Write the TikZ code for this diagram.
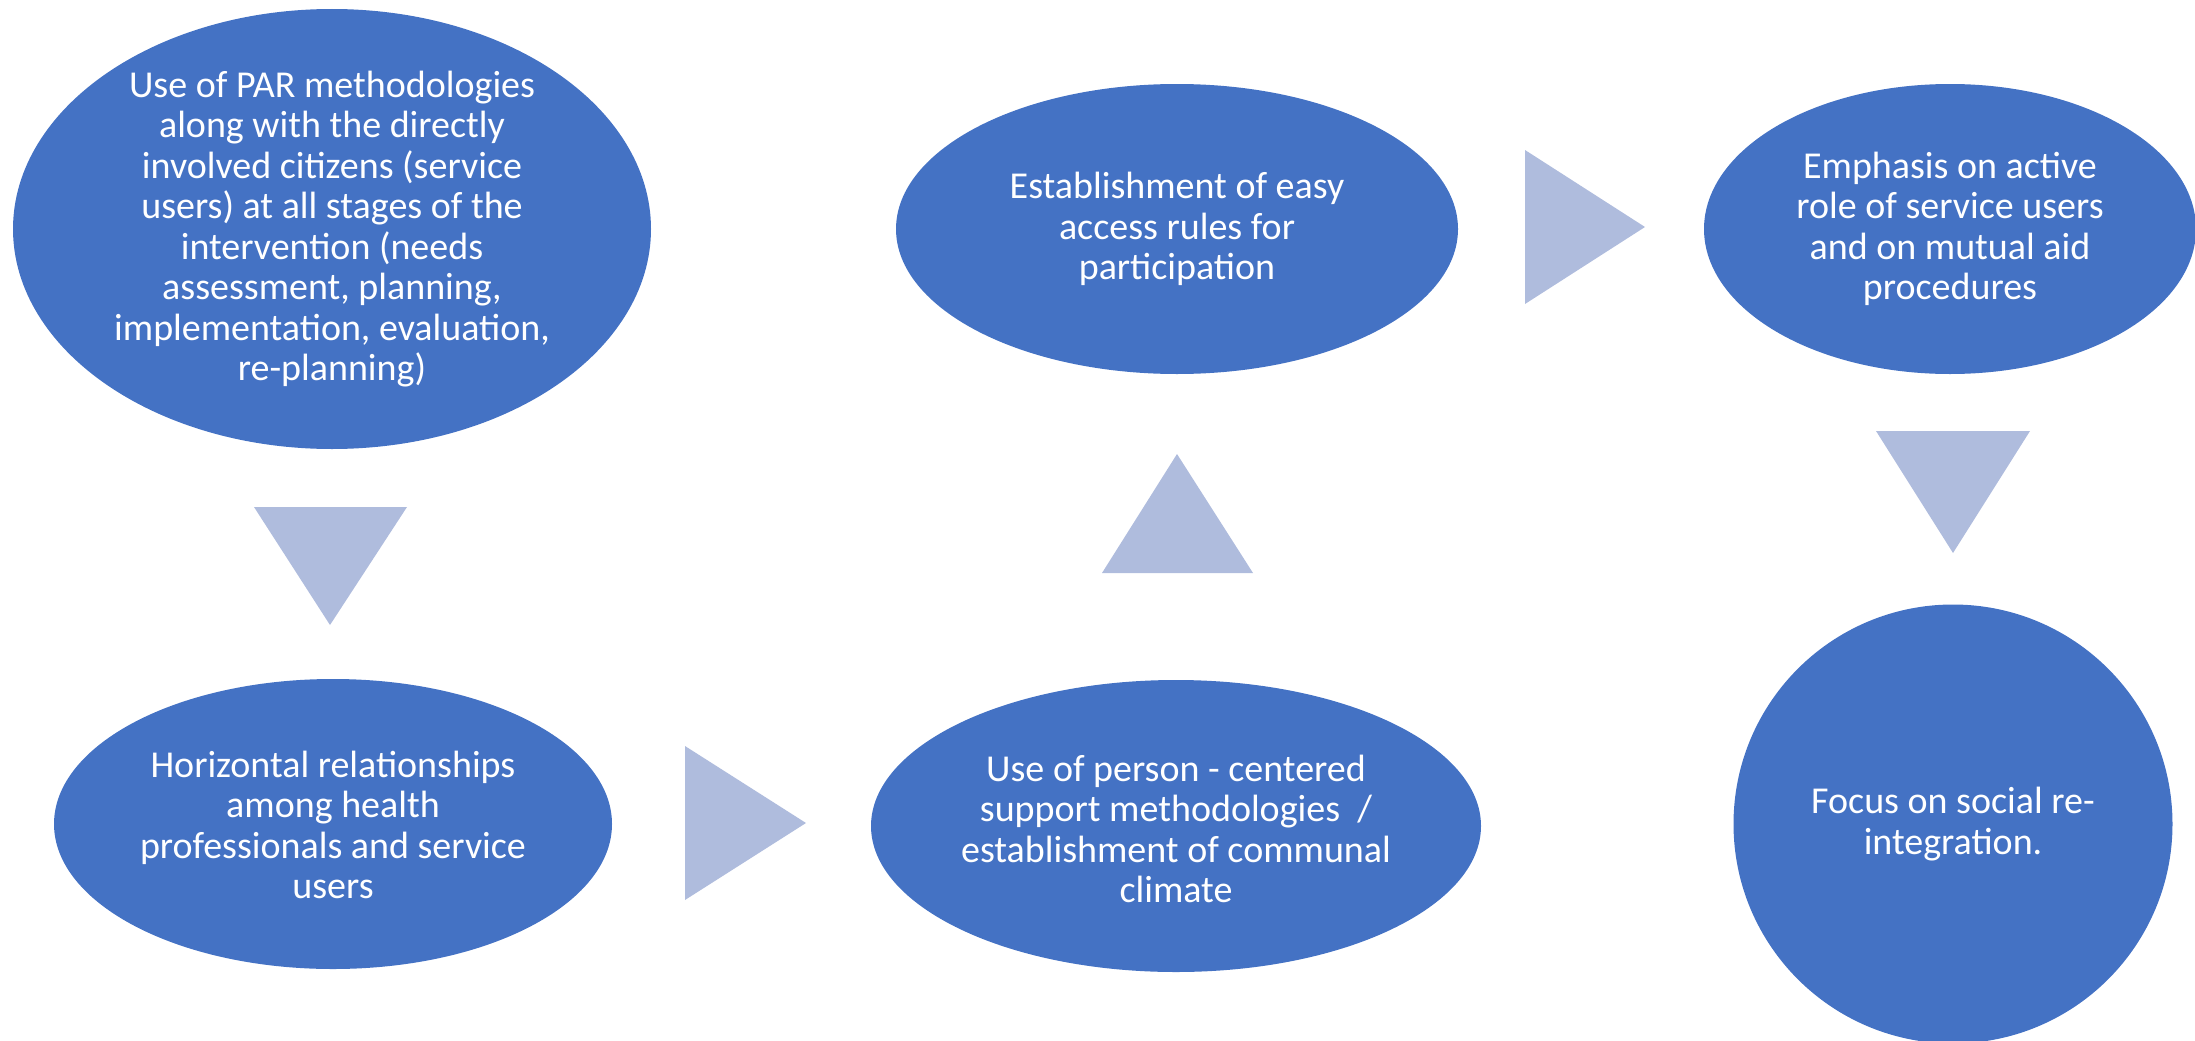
\documentclass[tikz,border=0pt]{standalone}
\usepackage{fontspec}
\setmainfont{Carlito}
\usetikzlibrary{shapes.geometric}
\definecolor{blobblue}{HTML}{4472C4}
\definecolor{arrowblue}{HTML}{AFBCDD}
\tikzset{
  blob/.style={ellipse, fill=blobblue, draw=none, inner sep=0pt},
  blobtext/.style={text=white, align=center, inner sep=0pt, font=\fontsize{38}{40.5}\selectfont},
  tri/.style={fill=arrowblue, draw=none}
}
\begin{document}
\begin{tikzpicture}[x=1pt,y=-1pt]
\useasboundingbox (0,0) rectangle (2195,1041);
\begin{scope}
\clip (0,0) rectangle (2195,1041);
\node[blob, minimum width=638pt, minimum height=440pt] (e1) at (332,229) {};
\node[blob, minimum width=558pt, minimum height=290pt] (e2) at (333,824) {};
\node[blob, minimum width=610pt, minimum height=292pt] (e3) at (1176,826) {};
\node[blob, minimum width=562pt, minimum height=290pt] (e4) at (1177,229) {};
\node[blob, minimum width=492pt, minimum height=290pt] (e5) at (1950,229) {};
\node[blob, circle, minimum size=439pt] (c6) at (1953,824) {};
\end{scope}
\node[blobtext] (t1) at (e1.center)
  {Use of PAR methodologies\\along with the directly\\involved citizens (service\\users) at all stages of the\\intervention (needs\\assessment, planning,\\implementation, evaluation,\\re-planning)};
\node[blobtext] (t2) at ([yshift=-1pt]e2.center)
  {Horizontal relationships\\among health\\professionals and service\\users};
\node[blobtext] (t3) at ([yshift=-3pt]e3.center)
  {Use of person - centered\\support methodologies\ \ /\\establishment of communal\\climate};
\node[blobtext] (t4) at (e4.center)
  {Establishment of easy\\access rules for\\participation};
\node[blobtext] (t5) at (e5.center)
  {Emphasis on active\\role of service users\\and on mutual aid\\procedures};
\node[blobtext] (t6) at (c6.center)
  {Focus on social re-\\integration.};
\fill[tri] (254,507) -- (407,507) -- (330,625) -- cycle;
\fill[tri] (685,746) -- (685,900) -- (806,823) -- cycle;
\fill[tri] (1102,573) -- (1253,573) -- (1177,454) -- cycle;
\fill[tri] (1525,150) -- (1525,304) -- (1645,227) -- cycle;
\fill[tri] (1876,431) -- (2030,431) -- (1953,553) -- cycle;
\end{tikzpicture}
\end{document}
